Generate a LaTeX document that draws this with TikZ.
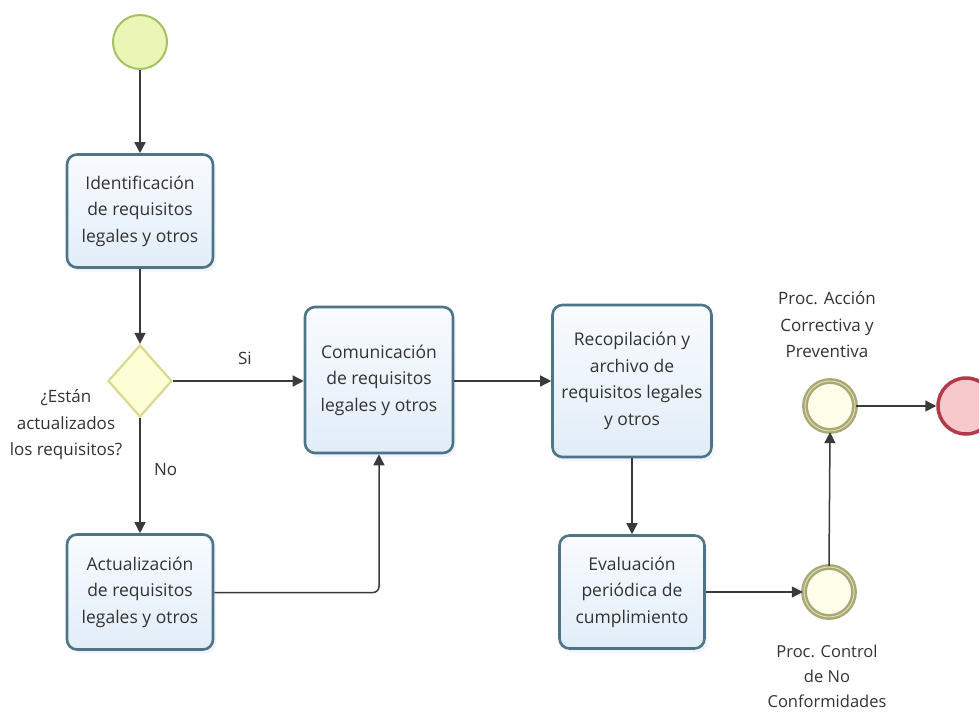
\documentclass[tikz,border=0pt]{standalone}
\usepackage{fontspec}
\setmainfont{Open Sans}
\usetikzlibrary{shapes.geometric,arrows.meta,shadows,positioning}
\definecolor{boxborder}{HTML}{4E7585}
\definecolor{boxtop}{HTML}{F8FBFF}
\definecolor{boxbot}{HTML}{E2EDF8}
\definecolor{startfill}{HTML}{EBF5B5}
\definecolor{startdraw}{HTML}{A6C164}
\definecolor{gwfill}{HTML}{FDFDD6}
\definecolor{gwdraw}{HTML}{D9D990}
\definecolor{evdraw}{HTML}{A9A872}
\definecolor{evfill}{HTML}{FEFEEA}
\definecolor{endfill}{HTML}{F7C8CC}
\definecolor{enddraw}{HTML}{B23A4A}
\definecolor{linecol}{HTML}{3A3A3A}
\definecolor{txt}{HTML}{333333}
\tikzset{
  task/.style={draw=boxborder, line width=2.6pt, rounded corners=10pt,
    top color=boxtop, bottom color=boxbot, align=center, text=txt,
    font=\fontsize{17.5}{26.5}\selectfont, inner sep=0pt,
    drop shadow={opacity=0.12, shadow xshift=3pt, shadow yshift=-4pt, fill=blue!40}},
  flow/.style={draw=linecol, line width=1.5pt, -{Triangle[length=11pt,width=11pt]}},
  lbl/.style={text=txt, align=center, font=\fontsize{17}{26.5}\selectfont},
  startev/.style={circle, draw=startdraw, line width=2pt, fill=startfill, minimum size=54pt, inner sep=0pt},
  gateway/.style={diamond, draw=gwdraw, line width=2.2pt, fill=gwfill, minimum width=64pt, minimum height=72pt, inner sep=0pt},
  midev/.style={circle, draw=evdraw, line width=2.4pt, double=evfill!60!evdraw, double distance=1pt, fill=evfill, minimum size=50pt, inner sep=0pt},
  endev/.style={circle, draw=enddraw, line width=3.5pt, fill=endfill, minimum size=56pt, inner sep=0pt}
}
\begin{document}
\begin{tikzpicture}[x=1pt,y=-1pt]
\useasboundingbox (0,0) rectangle (979,715);
\clip (0,0) rectangle (979,715);
\node[startev] (start) at (140,42) {};
\node[task, minimum width=146pt, minimum height=113pt] (ident) at (140,211) {Identificación\\de requisitos\\legales y otros};
\node[gateway] (gw) at (140,381) {};
\node[lbl, anchor=center] (q) at (66,425) {¿Están\\actualizados\\los requisitos?};
\node[task, minimum width=146pt, minimum height=115pt] (act) at (140,592) {Actualización\\de requisitos\\legales y otros};
\node[task, minimum width=148pt, minimum height=146pt] (com) at (379,380) {Comunicación\\de requisitos\\legales y otros};
\node[task, minimum width=159pt, minimum height=152pt] (rec) at (632,381) {Recopilación y\\archivo de\\requisitos legales\\y otros};
\node[task, minimum width=145pt, minimum height=113pt] (eva) at (632,592) {Evaluación\\periódica de\\cumplimiento};
\node[midev] (ac) at (830,406) {};
\node[midev] (nc) at (829,592) {};
\node[endev] (fin) at (966,406) {};
\node[lbl] (aclbl) at (827,325) {Proc. Acción\\Correctiva y\\Preventiva};
\node[lbl, font=\fontsize{16.5}{25}\selectfont] (nclbl) at (827,676) {Proc. Control\\de No\\Conformidades};
\draw[flow] (start) -- (ident);
\draw[flow] (ident) -- (gw);
\draw[flow] (gw.east) -- node[lbl, above=12pt, pos=0.55] (si) {Si} (com.west |- gw.east);
\draw[flow] (gw.south) -- node[lbl, right=10pt, pos=0.45] (no) {No} (act.north);
\draw[flow, rounded corners=6pt] ([yshift=-0.5pt]act.east) -| (com.south);
\draw[flow] (com.east |- rec.west) -- (rec.west);
\draw[flow] (rec.south) -- (eva.north);
\draw[flow] (eva.east) -- (nc.west);
\draw[flow] (nc.north) -- (ac.south);
\draw[flow] (ac.east) -- (fin.west);
\end{tikzpicture}
\end{document}
